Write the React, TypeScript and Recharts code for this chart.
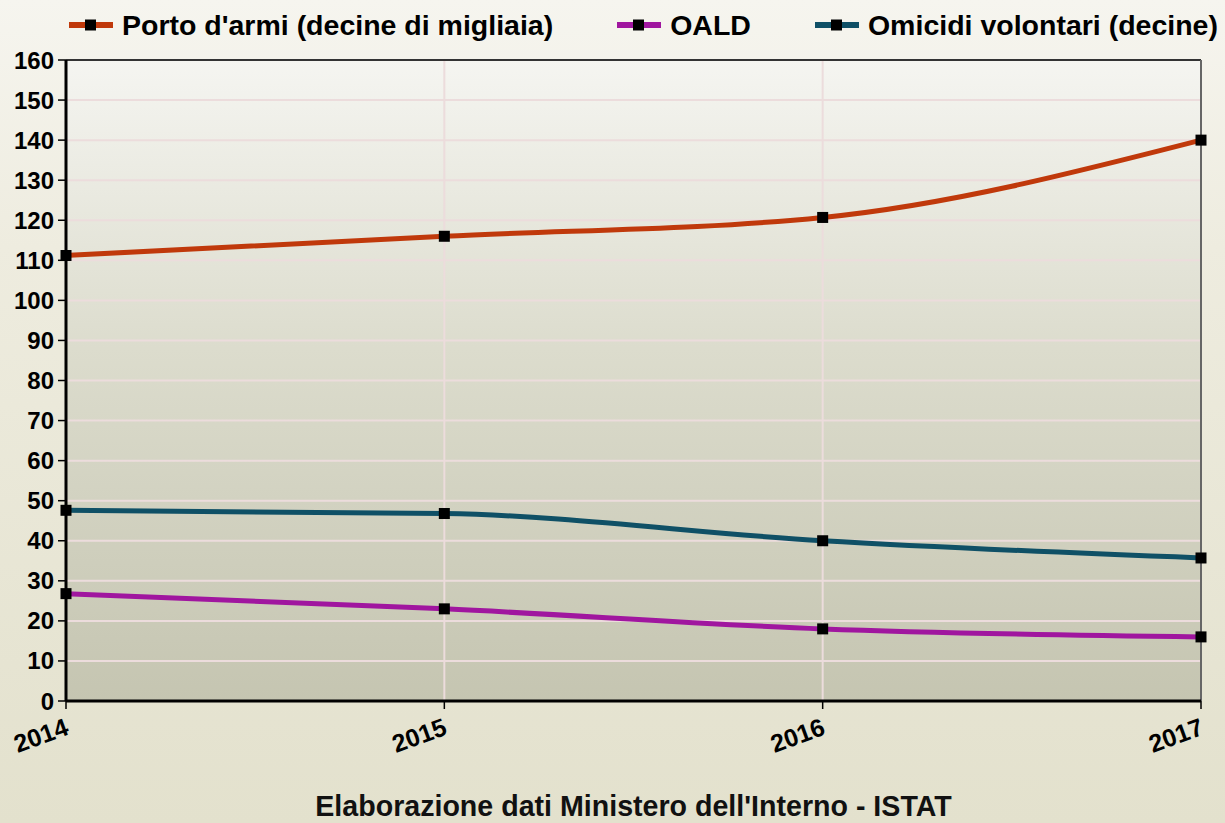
import React from "react";
import { LineChart, Line, XAxis, YAxis, CartesianGrid, Legend, ReferenceLine, Label } from "recharts";

const years = ["2014", "2015", "2016", "2017"];
const portoArmi = [111.2, 116, 120.7, 140];
const oald = [26.8, 23, 18, 16];
const omicidi = [47.6, 46.8, 40, 35.7];
const yTicks = [0, 10, 20, 30, 40, 50, 60, 70, 80, 90, 100, 110, 120, 130, 140, 150, 160];
const legendOrder = ["porto", "oald", "omicidi"];

const data = years.map((year, i) => ({
  year,
  porto: portoArmi[i],
  oald: oald[i],
  omicidi: omicidi[i],
}));

const FONT = "'Liberation Sans', Arial, sans-serif";

const SquareDot = (props: any) => {
  const { cx, cy, index } = props;
  if (cx == null || cy == null) return <g key={index} />;
  return <rect key={index} x={cx - 5.5} y={cy - 5.5} width={11} height={11} fill="#000" />;
};

const XTick = (props: any) => {
  const { x, y, payload } = props;
  const tx = x + 4;
  const ty = y + 23;
  return (
    <text
      x={tx}
      y={ty}
      transform={`rotate(-20, ${tx}, ${ty})`}
      textAnchor="end"
      fontSize={25}
      fontWeight="bold"
      fontFamily={FONT}
      fill="#000"
    >
      {payload.value}
    </text>
  );
};

const renderLegend = (props: any) => {
  const items = [...(props.payload || [])].sort(
    (a: any, b: any) => legendOrder.indexOf(a.dataKey) - legendOrder.indexOf(b.dataKey)
  );
  return (
    <div style={{ display: "flex", alignItems: "center", fontFamily: FONT, whiteSpace: "nowrap" }}>
      {items.map((entry: any) => (
        <div key={entry.value} style={{ display: "flex", alignItems: "center", marginRight: 64, flexShrink: 0 }}>
          <svg width={44} height={14} style={{ marginRight: 9, flexShrink: 0 }}>
            <rect x={0} y={4} width={44} height={6} fill={entry.color} />
            <rect x={16} y={1.5} width={11} height={11} fill="#000" />
          </svg>
          <span style={{ fontSize: 28.5, fontWeight: "bold", color: "#000", lineHeight: "34px" }}>
            {entry.value}
          </span>
        </div>
      ))}
    </div>
  );
};

export default function App() {
  return (
    <div
      style={{
        position: "absolute",
        left: 0,
        top: 0,
        width: 1225,
        height: 823,
        background: "linear-gradient(#f6f5ef 0%, #eeecdf 30%, #e3e1cd 100%)",
      }}
    >
      <LineChart width={1225} height={823} data={data} margin={{ top: 60, right: 24, bottom: 0, left: 0 }}>
        <defs>
          <linearGradient id="plotBg" x1="0" y1="0" x2="0" y2="1">
            <stop offset="0%" stopColor="#f5f5f1" />
            <stop offset="45%" stopColor="#dcdccd" />
            <stop offset="100%" stopColor="#c5c5b1" />
          </linearGradient>
        </defs>
        <CartesianGrid stroke="#ecdcdc" strokeWidth={2} fill="url(#plotBg)" />
        <XAxis
          dataKey="year"
          height={122}
          interval={0}
          tickSize={8}
          tick={<XTick />}
          axisLine={{ stroke: "#000", strokeWidth: 3 }}
          tickLine={{ stroke: "#000", strokeWidth: 1.5 }}
        >
          <Label
            value="Elaborazione dati Ministero dell'Interno - ISTAT"
            position="insideBottom"
            offset={7}
            style={{ fontSize: 28.6, fontWeight: "bold", fill: "#111", fontFamily: FONT }}
          />
        </XAxis>
        <YAxis
          width={66}
          domain={[0, 160]}
          ticks={yTicks}
          interval={0}
          tickSize={8}
          tickMargin={4}
          tick={{ fontSize: 24, fontWeight: "bold", fill: "#000", fontFamily: FONT }}
          axisLine={{ stroke: "#000", strokeWidth: 3 }}
          tickLine={{ stroke: "#000", strokeWidth: 1.5 }}
        />
        <ReferenceLine y={160} stroke="#333" strokeWidth={2} />
        <ReferenceLine x="2017" stroke="#666" strokeWidth={2} />
        <Legend
          layout="horizontal"
          verticalAlign="middle"
          align="center"
          content={renderLegend}
          wrapperStyle={{ left: 69, top: 8, width: 1160 }}
        />
        <Line
          type="monotone"
          dataKey="porto"
          name="Porto d'armi (decine di migliaia)"
          stroke="#c0390b"
          strokeWidth={5}
          dot={SquareDot}
          isAnimationActive={false}
        />
        <Line
          type="monotone"
          dataKey="oald"
          name="OALD"
          stroke="#a0169f"
          strokeWidth={5}
          dot={SquareDot}
          isAnimationActive={false}
        />
        <Line
          type="monotone"
          dataKey="omicidi"
          name="Omicidi volontari (decine)"
          stroke="#0f5066"
          strokeWidth={5}
          dot={SquareDot}
          isAnimationActive={false}
        />
      </LineChart>
    </div>
  );
}
